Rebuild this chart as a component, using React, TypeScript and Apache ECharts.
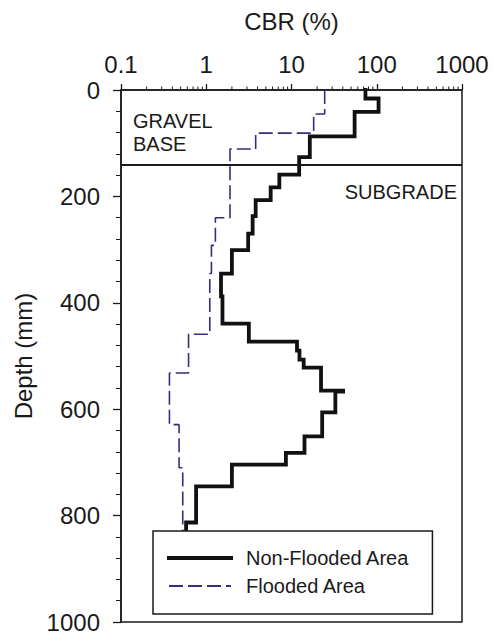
import React, { useEffect, useRef } from "react";
import * as echarts from "echarts";

// Non-flooded area: layer top depth (mm) and CBR (%) within that layer
const nonFloodedTops = [0, 16, 41, 87, 126, 159, 183, 207, 237, 270, 301, 345, 388, 439, 473, 490, 507, 522, 565, 567, 606, 651, 682, 704, 745, 813];
const nonFloodedCBR = [73.7, 105, 55, 16.4, 12.3, 7.2, 5.7, 3.8, 3.5, 3.1, 2.0, 1.49, 1.55, 3.16, 11.6, 12.4, 13.9, 22.2, 40.3, 32.7, 22.9, 14.2, 8.6, 2.0, 0.76, 0.58];
const nonFloodedBottom = 830;

// Flooded area
const floodedTops = [0, 45, 81, 111, 240, 292, 345, 459, 532, 629, 710];
const floodedCBR = [24.5, 18.2, 3.8, 1.9, 1.28, 1.15, 1.1, 0.62, 0.37, 0.48, 0.53];
const floodedBottom = 830;

const layerBoundaryDepth = 140;

const xMinorTicks = [
  0.2, 0.3, 0.4, 0.5, 0.6, 0.7, 0.8, 0.9,
  2, 3, 4, 5, 6, 7, 8, 9,
  20, 30, 40, 50, 60, 70, 80, 90,
  200, 300, 400, 500, 600, 700, 800, 900,
];
const yTickLabels = [0, 200, 400, 600, 800, 1000];

function stepProfile(tops: number[], vals: number[], bottom: number) {
  const pts: [number, number][] = [];
  for (let i = 0; i < tops.length; i++) {
    const end = i + 1 < tops.length ? tops[i + 1] : bottom;
    pts.push([vals[i], tops[i]]);
    pts.push([vals[i], end]);
  }
  return pts;
}

const FONT = '"Liberation Sans", Arial, sans-serif';
const INK = "#1a1a1a";

export default function App() {
  const ref = useRef<HTMLDivElement>(null);
  useEffect(() => {
    if (!ref.current) return;
    const chart = echarts.init(ref.current, null, { renderer: "svg" });
    const option: any = {
      animation: false,
      backgroundColor: "#fff",
      textStyle: { fontFamily: FONT },
      grid: { left: 121, right: 31, top: 90, bottom: 9, show: true, borderColor: INK, borderWidth: 1.5, backgroundColor: "transparent" },
      xAxis: {
        type: "log", logBase: 10, position: "top", min: 0.1, max: 1000,
        name: "CBR (%)", nameLocation: "middle", nameGap: 57,
        nameTextStyle: { fontSize: 24, color: INK, fontFamily: FONT },
        axisLine: { show: true, lineStyle: { color: INK, width: 1.5 } },
        axisTick: { show: true, inside: false, length: 6, lineStyle: { color: INK, width: 1.3 } },
        axisLabel: { fontSize: 24, color: INK, margin: 14, fontFamily: FONT, formatter: (v: number) => String(v) },
        splitLine: { show: false },
        minorTick: { show: false },
      },
      yAxis: {
        type: "value", inverse: true, min: 0, max: 1000, interval: 200,
        name: "Depth (mm)", nameLocation: "middle", nameGap: 84,
        nameTextStyle: { fontSize: 24, color: INK, fontFamily: FONT },
        axisLine: { show: true, lineStyle: { color: INK, width: 1.5 } },
        axisTick: { show: true, inside: false, length: 8, lineStyle: { color: INK, width: 1.3 } },
        minorTick: { show: true, splitNumber: 5, length: 5, lineStyle: { color: INK, width: 1 } },
        axisLabel: { fontSize: 24, color: INK, margin: 21, fontFamily: FONT, formatter: (v: number) => (yTickLabels.includes(v) ? String(v) : "") },
        splitLine: { show: false },
      },
      legend: {
        orient: "vertical", left: 153, top: 531, padding: [17, 23, 18, 14],
        itemWidth: 62, itemHeight: 14, itemGap: 8,
        backgroundColor: "#fff", borderColor: INK, borderWidth: 1.5, borderRadius: 0,
        itemStyle: { opacity: 0 },
        textStyle: { fontSize: 20, color: INK, fontFamily: FONT, padding: [0, 0, 0, 10] },
        data: [
          { name: "Non-Flooded Area", lineStyle: { width: 4 } },
          { name: "Flooded Area" },
        ],
      },
      series: [
        {
          name: "Non-Flooded Area", type: "line", symbol: "none",
          data: stepProfile(nonFloodedTops, nonFloodedCBR, nonFloodedBottom),
          lineStyle: { color: "#111", width: 3.8, cap: "square", join: "miter" },
          itemStyle: { color: "#111" }, z: 3,
          markLine: { symbol: "none", silent: true, label: { show: false }, lineStyle: { color: INK, width: 2, type: "solid" }, data: [{ yAxis: layerBoundaryDepth }] },
        },
        {
          name: "Flooded Area", type: "line", symbol: "none",
          data: stepProfile(floodedTops, floodedCBR, floodedBottom),
          lineStyle: { color: "#3d2a80", width: 1.6, type: [14, 5] },
          itemStyle: { color: "#3d2a80" }, z: 2,
        },
      ],
      graphic: [
        { type: "text", x: 133, y: 109, style: { text: "GRAVEL\nBASE", font: `20px ${FONT}`, lineHeight: 23, fill: INK, align: "left", verticalAlign: "top" } },
        { type: "text", x: 457, y: 192, style: { text: "SUBGRADE", font: `20px ${FONT}`, fill: INK, align: "right", verticalAlign: "middle" } },
      ],
    };
    chart.setOption(option);

    // log-axis minor ticks placed through the axis scale
    const axisY = chart.convertToPixel({ yAxisIndex: 0 }, 0) as number;
    const minorLines = xMinorTicks.map((v) => {
      const px = chart.convertToPixel({ xAxisIndex: 0 }, v) as number;
      return { type: "line", silent: true, z: 100, shape: { x1: px, y1: axisY, x2: px, y2: axisY - 3.5 }, style: { stroke: INK, lineWidth: 1 } };
    });
    chart.setOption({ graphic: [...option.graphic, ...minorLines] });

    return () => chart.dispose();
  }, []);
  return <div ref={ref} style={{ position: "fixed", left: 0, top: 0, width: 493, height: 634 }} />;
}
